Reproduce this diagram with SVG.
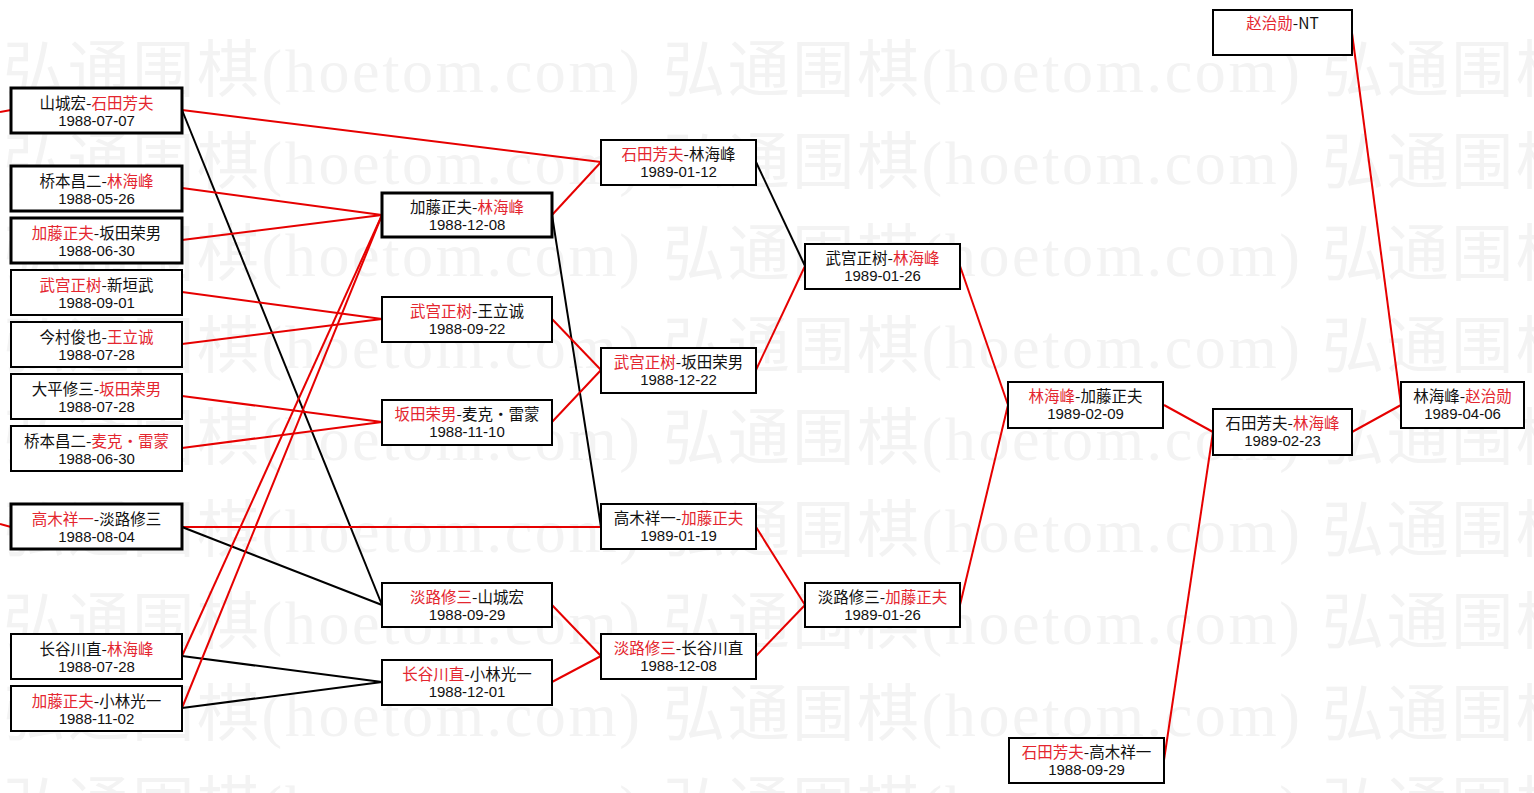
<svg xmlns="http://www.w3.org/2000/svg" width="1534" height="793" viewBox="0 0 1534 793">
<style>
.wm{font-family:"Liberation Serif","Noto Sans CJK SC",serif;font-size:62px;fill:#f3f3f3}
.box{fill:#fff;stroke:#000;stroke-width:2}
.bold{stroke-width:3}
.t1{font-family:"Noto Sans CJK SC",sans-serif;font-size:15.5px;fill:#111;text-anchor:middle}
.t2{font-family:"Liberation Sans",Arial,sans-serif;font-size:15px;fill:#111;text-anchor:middle}
.r{fill:#e4262f}
.lr{stroke:#e60000;stroke-width:2;fill:none}
.lb{stroke:#000;stroke-width:2;fill:none}
</style>
<rect width="1534" height="793" fill="#fff"/>
<g id="watermark">
<text class="wm" x="3" y="92" textLength="637">弘通围棋(hoetom.com)</text>
<text class="wm" x="663" y="92" textLength="637">弘通围棋(hoetom.com)</text>
<text class="wm" x="1322" y="92" textLength="637">弘通围棋(hoetom.com)</text>
<text class="wm" x="3" y="184" textLength="637">弘通围棋(hoetom.com)</text>
<text class="wm" x="663" y="184" textLength="637">弘通围棋(hoetom.com)</text>
<text class="wm" x="1322" y="184" textLength="637">弘通围棋(hoetom.com)</text>
<text class="wm" x="3" y="276" textLength="637">弘通围棋(hoetom.com)</text>
<text class="wm" x="663" y="276" textLength="637">弘通围棋(hoetom.com)</text>
<text class="wm" x="1322" y="276" textLength="637">弘通围棋(hoetom.com)</text>
<text class="wm" x="3" y="368" textLength="637">弘通围棋(hoetom.com)</text>
<text class="wm" x="663" y="368" textLength="637">弘通围棋(hoetom.com)</text>
<text class="wm" x="1322" y="368" textLength="637">弘通围棋(hoetom.com)</text>
<text class="wm" x="3" y="460" textLength="637">弘通围棋(hoetom.com)</text>
<text class="wm" x="663" y="460" textLength="637">弘通围棋(hoetom.com)</text>
<text class="wm" x="1322" y="460" textLength="637">弘通围棋(hoetom.com)</text>
<text class="wm" x="3" y="552" textLength="637">弘通围棋(hoetom.com)</text>
<text class="wm" x="663" y="552" textLength="637">弘通围棋(hoetom.com)</text>
<text class="wm" x="1322" y="552" textLength="637">弘通围棋(hoetom.com)</text>
<text class="wm" x="3" y="644" textLength="637">弘通围棋(hoetom.com)</text>
<text class="wm" x="663" y="644" textLength="637">弘通围棋(hoetom.com)</text>
<text class="wm" x="1322" y="644" textLength="637">弘通围棋(hoetom.com)</text>
<text class="wm" x="3" y="736" textLength="637">弘通围棋(hoetom.com)</text>
<text class="wm" x="663" y="736" textLength="637">弘通围棋(hoetom.com)</text>
<text class="wm" x="1322" y="736" textLength="637">弘通围棋(hoetom.com)</text>
<text class="wm" x="3" y="828" textLength="637">弘通围棋(hoetom.com)</text>
<text class="wm" x="663" y="828" textLength="637">弘通围棋(hoetom.com)</text>
<text class="wm" x="1322" y="828" textLength="637">弘通围棋(hoetom.com)</text>
</g>
<g id="connectors">
<line class="lr" x1="0" y1="112" x2="11" y2="110"/>
<line class="lr" x1="0" y1="524" x2="11" y2="527"/>
<line class="lr" x1="182" y1="110" x2="601" y2="162"/>
<line class="lb" x1="182" y1="110" x2="382" y2="605"/>
<line class="lr" x1="182" y1="188" x2="382" y2="215"/>
<line class="lr" x1="182" y1="240" x2="382" y2="215"/>
<line class="lr" x1="182" y1="292" x2="382" y2="319"/>
<line class="lr" x1="182" y1="344" x2="382" y2="319"/>
<line class="lr" x1="182" y1="396" x2="382" y2="422"/>
<line class="lr" x1="182" y1="448" x2="382" y2="422"/>
<line class="lr" x1="182" y1="527" x2="601" y2="527"/>
<line class="lb" x1="182" y1="527" x2="382" y2="605"/>
<line class="lr" x1="182" y1="656" x2="382" y2="215"/>
<line class="lb" x1="182" y1="656" x2="382" y2="682"/>
<line class="lr" x1="182" y1="708" x2="382" y2="215"/>
<line class="lb" x1="182" y1="708" x2="382" y2="682"/>
<line class="lr" x1="552" y1="215" x2="601" y2="162"/>
<line class="lb" x1="552" y1="215" x2="601" y2="527"/>
<line class="lr" x1="552" y1="319" x2="601" y2="370"/>
<line class="lr" x1="552" y1="422" x2="601" y2="370"/>
<line class="lr" x1="552" y1="605" x2="601" y2="656"/>
<line class="lr" x1="552" y1="682" x2="601" y2="656"/>
<line class="lb" x1="756" y1="162" x2="805" y2="266"/>
<line class="lr" x1="756" y1="370" x2="805" y2="266"/>
<line class="lr" x1="756" y1="527" x2="805" y2="605"/>
<line class="lr" x1="756" y1="656" x2="805" y2="605"/>
<line class="lr" x1="960" y1="266" x2="1008" y2="405"/>
<line class="lr" x1="960" y1="605" x2="1008" y2="405"/>
<line class="lr" x1="1164" y1="405" x2="1213" y2="432"/>
<line class="lr" x1="1164" y1="760" x2="1213" y2="432"/>
<line class="lr" x1="1352" y1="432" x2="1401" y2="405"/>
<line class="lr" x1="1352" y1="33" x2="1401" y2="405"/>
</g>
<g id="n1"><rect class="box bold" x="11" y="88" width="171" height="45"/><text class="t1" x="96.5" y="109">山城宏-<tspan class="r">石田芳夫</tspan></text><text class="t2" x="96.5" y="126">1988-07-07</text></g>
<g id="n2"><rect class="box bold" x="11" y="166" width="171" height="45"/><text class="t1" x="96.5" y="187">桥本昌二-<tspan class="r">林海峰</tspan></text><text class="t2" x="96.5" y="204">1988-05-26</text></g>
<g id="n3"><rect class="box bold" x="11" y="218" width="171" height="45"/><text class="t1" x="96.5" y="239"><tspan class="r">加藤正夫</tspan>-坂田荣男</text><text class="t2" x="96.5" y="256">1988-06-30</text></g>
<g id="n4"><rect class="box" x="11" y="270" width="171" height="45"/><text class="t1" x="96.5" y="291"><tspan class="r">武宫正树</tspan>-新垣武</text><text class="t2" x="96.5" y="308">1988-09-01</text></g>
<g id="n5"><rect class="box" x="11" y="322" width="171" height="45"/><text class="t1" x="96.5" y="343">今村俊也-<tspan class="r">王立诚</tspan></text><text class="t2" x="96.5" y="360">1988-07-28</text></g>
<g id="n6"><rect class="box" x="11" y="374" width="171" height="45"/><text class="t1" x="96.5" y="395">大平修三-<tspan class="r">坂田荣男</tspan></text><text class="t2" x="96.5" y="412">1988-07-28</text></g>
<g id="n7"><rect class="box" x="11" y="426" width="171" height="45"/><text class="t1" x="96.5" y="447">桥本昌二-<tspan class="r">麦克・雷蒙</tspan></text><text class="t2" x="96.5" y="464">1988-06-30</text></g>
<g id="n8"><rect class="box bold" x="11" y="504" width="171" height="45"/><text class="t1" x="96.5" y="525"><tspan class="r">高木祥一</tspan>-淡路修三</text><text class="t2" x="96.5" y="542">1988-08-04</text></g>
<g id="n9"><rect class="box" x="11" y="634" width="171" height="45"/><text class="t1" x="96.5" y="655">长谷川直-<tspan class="r">林海峰</tspan></text><text class="t2" x="96.5" y="672">1988-07-28</text></g>
<g id="n10"><rect class="box" x="11" y="686" width="171" height="45"/><text class="t1" x="96.5" y="707"><tspan class="r">加藤正夫</tspan>-小林光一</text><text class="t2" x="96.5" y="724">1988-11-02</text></g>
<g id="m1"><rect class="box bold" x="382" y="193" width="170" height="44"/><text class="t1" x="467" y="213">加藤正夫-<tspan class="r">林海峰</tspan></text><text class="t2" x="467" y="230">1988-12-08</text></g>
<g id="m2"><rect class="box" x="382" y="297" width="170" height="45"/><text class="t1" x="467" y="317"><tspan class="r">武宫正树</tspan>-王立诚</text><text class="t2" x="467" y="334">1988-09-22</text></g>
<g id="m3"><rect class="box" x="382" y="400" width="170" height="45"/><text class="t1" x="467" y="420"><tspan class="r">坂田荣男</tspan>-麦克・雷蒙</text><text class="t2" x="467" y="437">1988-11-10</text></g>
<g id="m4"><rect class="box" x="382" y="583" width="170" height="44"/><text class="t1" x="467" y="603"><tspan class="r">淡路修三</tspan>-山城宏</text><text class="t2" x="467" y="620">1988-09-29</text></g>
<g id="m5"><rect class="box" x="382" y="660" width="170" height="45"/><text class="t1" x="467" y="680"><tspan class="r">长谷川直</tspan>-小林光一</text><text class="t2" x="467" y="697">1988-12-01</text></g>
<g id="c1"><rect class="box" x="601" y="140" width="155" height="45"/><text class="t1" x="678.5" y="160"><tspan class="r">石田芳夫</tspan>-林海峰</text><text class="t2" x="678.5" y="177">1989-01-12</text></g>
<g id="c2"><rect class="box" x="601" y="348" width="155" height="45"/><text class="t1" x="678.5" y="368"><tspan class="r">武宫正树</tspan>-坂田荣男</text><text class="t2" x="678.5" y="385">1988-12-22</text></g>
<g id="c3"><rect class="box" x="601" y="504" width="155" height="45"/><text class="t1" x="678.5" y="524">高木祥一-<tspan class="r">加藤正夫</tspan></text><text class="t2" x="678.5" y="541">1989-01-19</text></g>
<g id="c4"><rect class="box" x="601" y="634" width="155" height="45"/><text class="t1" x="678.5" y="654"><tspan class="r">淡路修三</tspan>-长谷川直</text><text class="t2" x="678.5" y="671">1988-12-08</text></g>
<g id="d1"><rect class="box" x="805" y="244" width="155" height="45"/><text class="t1" x="882.5" y="264">武宫正树-<tspan class="r">林海峰</tspan></text><text class="t2" x="882.5" y="281">1989-01-26</text></g>
<g id="d2"><rect class="box" x="805" y="583" width="155" height="44"/><text class="t1" x="882.5" y="603">淡路修三-<tspan class="r">加藤正夫</tspan></text><text class="t2" x="882.5" y="620">1989-01-26</text></g>
<g id="e1"><rect class="box" x="1008" y="382" width="155" height="46"/><text class="t1" x="1085.5" y="402"><tspan class="r">林海峰</tspan>-加藤正夫</text><text class="t2" x="1085.5" y="419">1989-02-09</text></g>
<g id="e2"><rect class="box" x="1009" y="738" width="155" height="45"/><text class="t1" x="1086.5" y="758"><tspan class="r">石田芳夫</tspan>-高木祥一</text><text class="t2" x="1086.5" y="775">1988-09-29</text></g>
<g id="f1"><rect class="box" x="1213" y="409" width="139" height="46"/><text class="t1" x="1282.5" y="429">石田芳夫-<tspan class="r">林海峰</tspan></text><text class="t2" x="1282.5" y="446">1989-02-23</text></g>
<g id="f2"><rect class="box" x="1213" y="10" width="139" height="45"/><text class="t1" x="1282.5" y="29"><tspan class="r">赵治勋</tspan>-NT</text></g>
<g id="g1"><rect class="box" x="1401" y="382" width="123" height="46"/><text class="t1" x="1462.5" y="402">林海峰-<tspan class="r">赵治勋</tspan></text><text class="t2" x="1462.5" y="419">1989-04-06</text></g>
</svg>
